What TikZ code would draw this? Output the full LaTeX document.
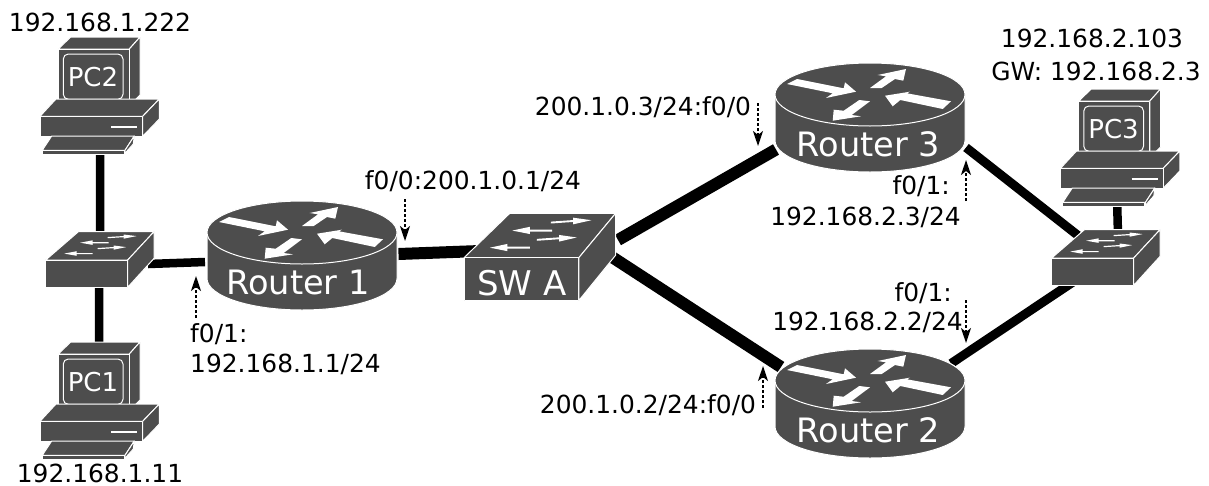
\documentclass[tikz,border=0pt]{standalone}
\usepackage{fontspec}
\setmainfont{DejaVu Sans}
\usetikzlibrary{calc,arrows.meta}
\tikzset{
  x=1pt,y=-1pt,
  anchorbox/.style={rectangle,inner sep=0pt,outer sep=0pt,minimum width=#1},
  face/.style={fill=devgray,draw=white,line width=1pt,line join=round},
  whiteshape/.style={fill=white,draw=none},
  devlabel/.style={text=white,inner sep=0pt},
  lbl/.style={font=\fontsize{24.9}{29}\selectfont,inner sep=0pt,text=black},
  thick link/.style={draw=black,line width=12pt},
  mid link/.style={draw=black,line width=9pt},
  thin link/.style={draw=black,line width=8.5pt},
  port/.style={draw=black,line width=1.8pt,dash pattern=on 3pt off 2pt,
    -{Stealth[length=15pt,width=10pt,inset=4pt]}},
}
\definecolor{devgray}{HTML}{4D4D4D}
% router artwork: origin at top left of a 190x109 box
\newcommand{\routerart}[1]{%
  \begin{scope}[shift={(#1)}]
    \path[face] (0,31.5) -- (0,77.5) arc[x radius=95,y radius=31.5,start angle=180,end angle=0]
      -- (190,31.5) arc[x radius=95,y radius=31.5,start angle=0,end angle=-180] -- cycle;
    \path[face] (95,31.5) ellipse[x radius=95,y radius=31.5];
    \path[whiteshape] (12,21) -- (22,16) -- (68.7,25.3) -- (70,19.3) -- (81,28.7) -- (51,35) -- (57.7,30.3) -- cycle;
    \path[whiteshape] (131,6) -- (128.3,17.7) -- (120,16) -- (106.7,25) -- (95,25) -- (111,13.3) -- (102.7,12) -- cycle;
    \path[whiteshape] (110,32.7) -- (135,28.7) -- (132,30.3) -- (176,38.3) -- (167.7,46) -- (125.3,37) -- (117.7,43.3) -- cycle;
    \path[whiteshape] (57.7,57.7) -- (58.7,46.7) -- (68.7,47.7) -- (84.3,37) -- (95,38.3) -- (76.7,52) -- (86,53.3) -- cycle;
  \end{scope}}
% switch artwork: origin at top left of a 108.6x55.6 box, scalable
\newcommand{\switchart}[3]{%
  \begin{scope}[shift={(#1)},xscale=#2,yscale=#3]
    \path[face] (0,28.3) -- (32.7,0) -- (108.3,0) -- (82,28.3) -- cycle;
    \path[face] (0,28.3) rectangle (82,55.6);
    \path[face] (82,28.3) -- (108.3,0) -- (108.3,26.7) -- (82,55.6) -- cycle;
    \path[whiteshape] (62,5.3) -- (78,4.3) -- (78,2.8) -- (91,4.4) -- (78,7) -- (78,5.5) -- (62,6.5) -- cycle;
    \path[whiteshape] (63,10.4) -- (47,10.4) -- (47,8.6) -- (34.5,11) -- (47,13.2) -- (47,11.6) -- (63,11.6) -- cycle;
    \path[whiteshape] (52,16.3) -- (68,15.3) -- (68,13.8) -- (80.5,15.4) -- (68,18) -- (68,16.5) -- (52,17.5) -- cycle;
    \path[whiteshape] (47,21.3) -- (31,21.3) -- (31,19.5) -- (18.5,21.9) -- (31,24.1) -- (31,22.5) -- (47,22.5) -- cycle;
  \end{scope}}
% PC artwork: origin at top left of a 119.3x117 box
\newcommand{\pcart}[1]{%
  \begin{scope}[shift={(#1)}]
    \path[face] (18.3,12) -- (30.7,0) -- (100,0) -- (89.3,12) -- cycle;
    \path[face] (89.3,12) -- (100,0) -- (100,58) -- (89.3,69) -- cycle;
    \path[face] (18.3,12) rectangle (89.3,69);
    \path[draw=white,line width=1pt,rounded corners=5pt] (23.3,17) rectangle (83,62.3);
    \path[face] (0,79.3) -- (16,62) -- (119.3,62) -- (102.7,79.3) -- cycle;
    \path[face] (102.7,79.3) -- (119.3,62) -- (119.3,82) -- (102.7,99.3) -- cycle;
    \path[face] (0,79.3) rectangle (102.7,99.3);
    \path[draw=white,line width=1.5pt] (71,90) -- (97.3,90);
    \path[face] (2.3,113.3) -- (11.7,99) -- (94.3,99) -- (85,113.3) -- cycle;
    \path[face] (85,113.3) -- (94.3,99) -- (93.3,107) -- (84.3,117) -- cycle;
    \path[face] (2.3,113.3) rectangle (84.3,117);
  \end{scope}}
\begin{document}
\begin{tikzpicture}
\useasboundingbox (0,0) rectangle (1209,485);
% device boxes
\node[anchorbox=119.3pt,minimum height=117pt,anchor=north west] (pc2) at (40,37) {};
\node[anchorbox=119.3pt,minimum height=117pt,anchor=north west] (pc1) at (40,342) {};
\node[anchorbox=119.3pt,minimum height=117pt,anchor=north west] (pc3) at (1060.5,89) {};
\node[anchorbox=108.6pt,minimum height=55.6pt,anchor=north west] (swl) at (45.7,231.7) {};
\node[anchorbox=108.6pt,minimum height=55.6pt,anchor=north west] (swr) at (1051.7,229.7) {};
\node[anchorbox=152pt,minimum height=87.4pt,anchor=north west] (swa) at (464,213.3) {};
\node[anchorbox=190pt,minimum height=109pt,anchor=north west] (r1) at (207,201) {};
\node[anchorbox=190pt,minimum height=109pt,anchor=north west] (r3) at (775,63) {};
\node[anchorbox=190pt,minimum height=109pt,anchor=north west] (r2) at (775,349) {};
% connectors
\draw[thin link] ($(pc2.south)+(0.5,1)$) -- ($(swl.north)+(0,5)$);
\draw[thin link] ($(swl.south)+(-1,-5)$) -- ($(pc1.north)+(-0.5,5)$);
\draw[thin link] ($(swl.center)+(48,4.5)$) -- ($(r1.west)+(-2,6.5)$);
\draw[thick link] ($(r1.east)+(1.5,-1.5)$) -- ($(swa.center)+(-60,-6)$);
\draw[thick link] ($(swa.center)+(78,-17)$) -- ($(r3.center)+(-94,32)$);
\draw[thick link] ($(swa.center)+(72,0)$) -- ($(r2.center)+(-89,-36.5)$);
\draw[mid link] ($(r3.center)+(96,30)$) -- ($(swr.center)+(-28,-22)$);
\draw[mid link] ($(r2.center)+(81,-40)$) -- ($(swr.center)+(-30,22.5)$);
\draw[thin link] ($(pc3.south)+(-3,-2)$) -- ($(swr.north)+(12,5)$);
% devices
\pcart{pc2.north west}
\pcart{pc1.north west}
\pcart{pc3.north west}
\switchart{swl.north west}{1}{1}
\switchart{swr.north west}{1}{1}
\switchart{swa.north west}{1.4}{1.57}
\routerart{r1.north west}
\routerart{r3.north west}
\routerart{r2.north west}
% device labels
\node[devlabel,font=\fontsize{26}{30}\selectfont] (pc2t) at (93,77) {PC2};
\node[devlabel,font=\fontsize{26}{30}\selectfont] (pc1t) at (93,382) {PC1};
\node[devlabel,font=\fontsize{26}{30}\selectfont] (pc3t) at (1113.5,129) {PC3};
\node[devlabel,font=\fontsize{33.6}{38}\selectfont] (r1t) at (298,282.5) {Router 1};
\node[devlabel,font=\fontsize{33.6}{38}\selectfont] (r3t) at (868.5,144.5) {Router 3};
\node[devlabel,font=\fontsize{33.6}{38}\selectfont] (r2t) at (868.5,430.5) {Router 2};
\node[devlabel,font=\fontsize{34}{38}\selectfont] (swat) at (522,283) {SW A};
% address labels
\node[lbl] (l1) at (100,22) {192.168.1.222};
\node[lbl] (l2) at (100,473) {192.168.1.11};
\node[lbl,anchor=west] (l3) at (190,334) {f0/1:};
\node[lbl,anchor=west] (l4) at (190,364) {192.168.1.1/24};
\node[lbl] (l5) at (473,181) {f0/0:200.1.0.1/24};
\node[lbl] (l6) at (643,107) {200.1.0.3/24:f0/0};
\node[lbl] (l7) at (648,405) {200.1.0.2/24:f0/0};
\node[lbl,anchor=east] (l8) at (950,186) {f0/1:};
\node[lbl,anchor=east] (l9) at (961,217) {192.168.2.3/24};
\node[lbl,anchor=east] (l10) at (952,293) {f0/1:};
\node[lbl,anchor=east] (l11) at (963,322) {192.168.2.2/24};
\node[lbl] (l12) at (1092,38) {192.168.2.103};
\node[lbl] (l13) at (1096,71) {GW: 192.168.2.3};
% interface arrows
\coordinate (a1s) at (405,199); \coordinate (a1e) at (405,241);
\coordinate (a2s) at (196,318); \coordinate (a2e) at (196,276);
\coordinate (a3s) at (758,103); \coordinate (a3e) at (758,146);
\coordinate (a4s) at (966,201); \coordinate (a4e) at (966,160);
\coordinate (a5s) at (966,300); \coordinate (a5e) at (966,343);
\coordinate (a6s) at (763,408); \coordinate (a6e) at (763,366);
\draw[port] (a1s) -- (a1e);
\draw[port] (a2s) -- (a2e);
\draw[port] (a3s) -- (a3e);
\draw[port] (a4s) -- (a4e);
\draw[port] (a5s) -- (a5e);
\draw[port] (a6s) -- (a6e);
\end{tikzpicture}
\end{document}
